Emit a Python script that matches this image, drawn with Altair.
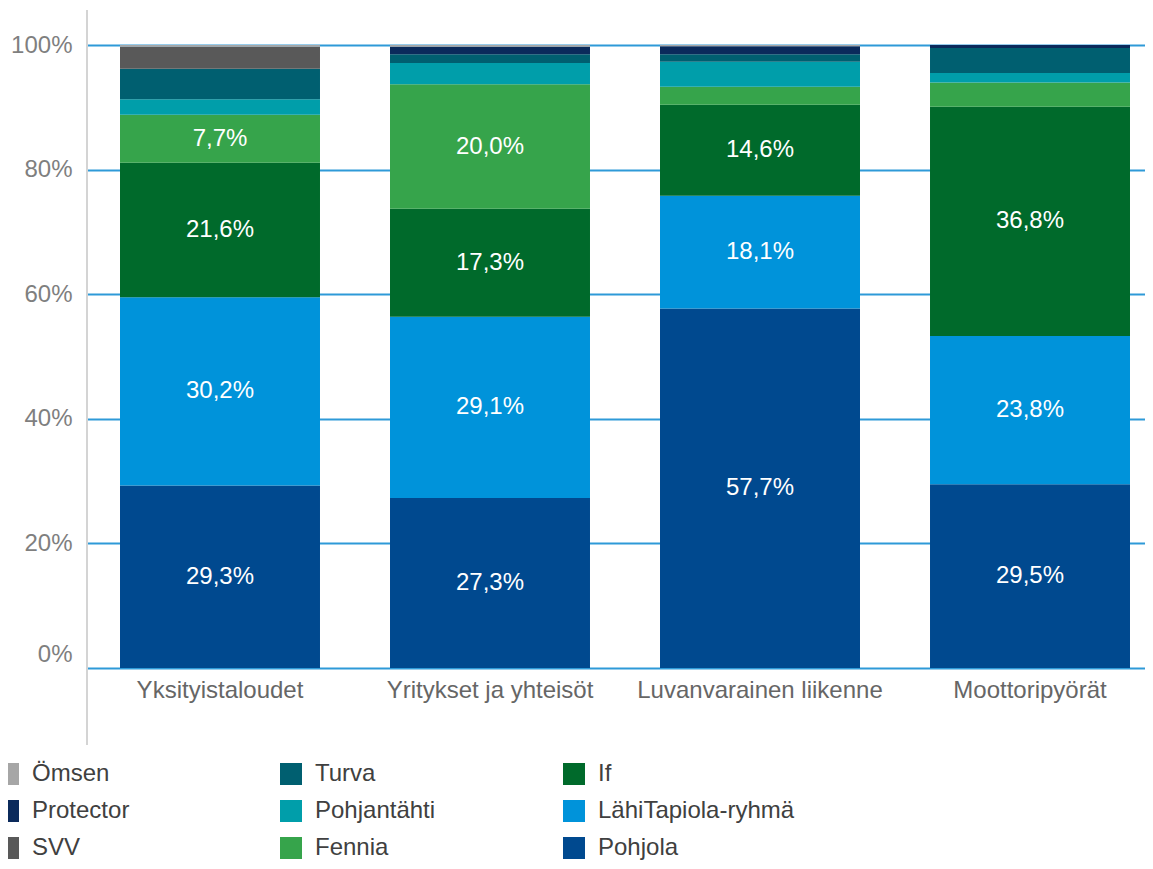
import altair as alt
import pandas as pd

categories = ["Yksityistaloudet", "Yritykset ja yhteisöt", "Luvanvarainen liikenne", "Moottoripyörät"]

# stack order, bottom to top
series = ["Pohjola", "LähiTapiola-ryhmä", "If", "Fennia", "Pohjantähti", "Turva", "SVV", "Protector", "Ömsen"]

pohjola = [29.3, 27.3, 57.7, 29.5]
lahitapiola = [30.2, 29.1, 18.1, 23.8]
if_values = [21.6, 17.3, 14.6, 36.8]
fennia = [7.7, 20.0, 2.9, 3.9]
pohjantahti = [2.5, 3.4, 4.0, 1.5]
turva = [4.9, 1.4, 1.2, 4.0]
svv = [3.5, 0.0, 0.0, 0.0]
protector = [0.0, 1.2, 1.3, 0.5]
omsen = [0.3, 0.3, 0.2, 0.0]

values = {
    "Pohjola": pohjola,
    "LähiTapiola-ryhmä": lahitapiola,
    "If": if_values,
    "Fennia": fennia,
    "Pohjantähti": pohjantahti,
    "Turva": turva,
    "SVV": svv,
    "Protector": protector,
    "Ömsen": omsen,
}

legend_order = ["Ömsen", "Protector", "SVV", "Turva", "Pohjantähti", "Fennia", "If", "LähiTapiola-ryhmä", "Pohjola"]
colors = {
    "Ömsen": "#a6a6a6",
    "Protector": "#0b2a5b",
    "SVV": "#595959",
    "Turva": "#005f70",
    "Pohjantähti": "#009eaa",
    "Fennia": "#36a44b",
    "If": "#006a2b",
    "LähiTapiola-ryhmä": "#0093da",
    "Pohjola": "#00498f",
}
y_ticks = [0, 0.2, 0.4, 0.6, 0.8, 1.0]

rows = []
for ci, cat in enumerate(categories):
    base = 0.0
    for si, s in enumerate(series):
        v = values[s][ci]
        label = (f"{v:.1f}".replace(".", ",") + "%") if v >= 5 else ""
        rows.append(dict(category=cat, series=s, rank=si, value=v,
                         start=base / 100, end=(base + v) / 100,
                         mid=(base + v / 2) / 100, label=label))
        base += v
df = pd.DataFrame(rows)

FONT = "Liberation Sans"

x_enc = alt.X("category:N", sort=categories, title=None,
              scale=alt.Scale(paddingInner=0.2593, paddingOuter=0.0889, align=0.6875),
              axis=alt.Axis(labelAngle=0, labelFontSize=24, labelColor="#666666", labelFont=FONT,
                            labelPadding=10, domain=False, ticks=False, labelLimit=400))

bars = alt.Chart(df).mark_bar(strokeWidth=0).encode(
    x=x_enc,
    y=alt.Y("start:Q", title=None,
            scale=alt.Scale(domain=[0, 1], nice=False, zero=True),
            axis=alt.Axis(values=y_ticks, format=".0%", labelFontSize=24, labelColor="#7f7f7f",
                          labelFont=FONT, labelPadding=15, domain=False, ticks=False,
                          labelOffset={"condition": {"test": "datum.value == 0", "value": -14}, "value": 0},
                          gridColor="#2e9ad8", gridWidth=2)),
    y2="end:Q",
    color=alt.Color("series:N",
                    scale=alt.Scale(domain=legend_order, range=[colors[s] for s in legend_order]),
                    legend=alt.Legend(orient="none", legendX=-91, legendY=717, columns=3,
                                      gridAlign="all", columnPadding=50, rowPadding=13,
                                      symbolType="square", symbolSize=484, symbolStrokeWidth=0,
                                      labelFontSize=24, labelFont=FONT, labelColor="#404040",
                                      labelOffset=12, title=None, padding=0, labelLimit=400)),
    order=alt.Order("rank:Q"),
)

labels = alt.Chart(df).transform_filter("datum.label != ''").mark_text(
    color="white", fontSize=24, font=FONT, baseline="middle", align="center"
).encode(
    x=alt.X("category:N", sort=categories),
    y=alt.Y("mid:Q"),
    text="label:N",
)

axis_line = alt.Chart(pd.DataFrame({"a": [0]})).mark_rule(color="#d4d4d4", strokeWidth=2).encode(
    x=alt.value(0), y=alt.value(-35), y2=alt.value(700)
)

chart = alt.layer(bars, labels, axis_line).properties(
    width=1058, height=623,
    autosize=alt.AutoSizeParams(type="none"),
    padding={"left": 79, "top": 37, "right": 0, "bottom": 193},
).configure_view(stroke=None).configure(font=FONT)

chart.save("out.html", embed_options={"renderer": "svg", "actions": False})
